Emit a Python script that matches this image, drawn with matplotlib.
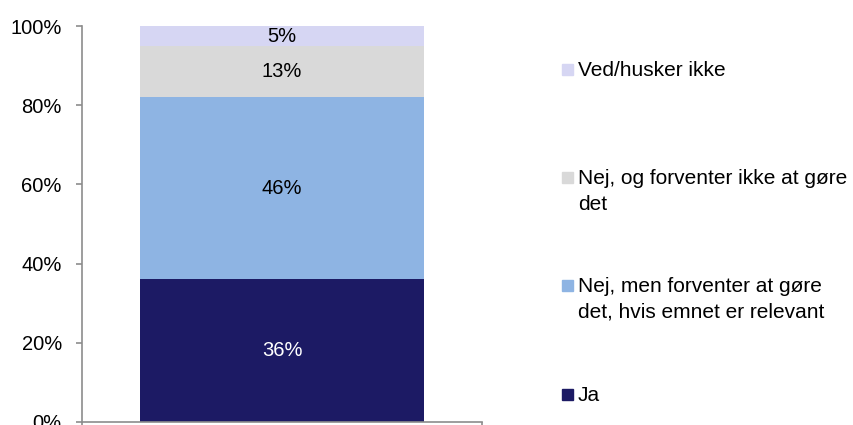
import matplotlib.pyplot as plt
from matplotlib.patches import Rectangle

# Stacked shares, bottom to top
categories = ["Ja",
              "Nej, men forventer at gøre\ndet, hvis emnet er relevant",
              "Nej, og forventer ikke at gøre\ndet",
              "Ved/husker ikke"]
values = [36, 46, 13, 5]
colors = ["#1C1A64", "#8EB4E3", "#D9D9D9", "#D6D6F3"]
label_colors = ["white", "black", "black", "black"]
y_ticks = [0, 20, 40, 60, 80, 100]

plt.rcParams["font.family"] = ["Liberation Sans", "DejaVu Sans"]

fig = plt.figure(figsize=(8.54, 4.25), dpi=100)
ax = fig.add_axes([82 / 854, 3.3 / 425, 400 / 854, 395.5 / 425])

bottom = 0
for val, col, lc in zip(values, colors, label_colors):
    ax.bar(0, val, width=0.71, bottom=bottom, color=col, edgecolor="none")
    ax.text(0, bottom + val / 2, f"{val}%", ha="center", va="center",
            fontsize=14.5, color=lc)
    bottom += val

ax.set_xlim(-0.5, 0.5)
ax.set_ylim(0, 100)
ax.set_yticks(y_ticks)
ax.set_yticklabels([f"{t}%" for t in y_ticks])
ax.set_xticks([-0.5, 0.5])
ax.set_xticklabels(["", ""])

for side in ["top", "right"]:
    ax.spines[side].set_visible(False)
for side in ["left", "bottom"]:
    ax.spines[side].set_color("#8C8C8C")
    ax.spines[side].set_linewidth(1.2)
ax.tick_params(axis="both", direction="out", length=4.5, width=1.2,
               color="#8C8C8C", labelsize=14.5, labelcolor="black")
ax.tick_params(axis="y", pad=10)

# Legend, top to bottom, placed by hand like the original
legend_y = [69, 177, 285, 394]   # pixel centres of first text line
for name, col, yp in zip(categories[::-1], colors[::-1], legend_y):
    fy = 1 - yp / 425
    fig.patches.append(Rectangle((562 / 854, fy - 5.5 / 425), 11 / 854, 11 / 425,
                                 transform=fig.transFigure, color=col))
    fig.text(578 / 854, fy + 8 / 425, name, ha="left", va="top",
             fontsize=15, linespacing=1.45)

fig.savefig("out.png", dpi=100)
